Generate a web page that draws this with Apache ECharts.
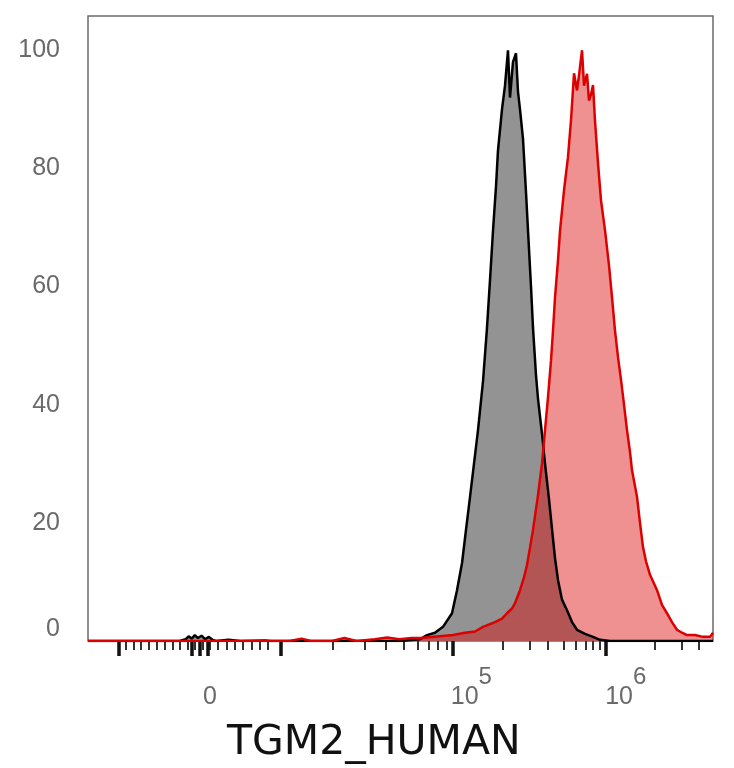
<!DOCTYPE html>
<html>
<head>
<meta charset="utf-8">
<script src="https://cdn.jsdelivr.net/npm/echarts@6/dist/echarts.min.js"></script>
<style>
html,body{margin:0;padding:0;background:#fff;}
#chart{width:734px;height:768px;}
</style>
</head>
<body>
<div id="chart"></div>
<script>
// x is display channel (0-1024, biexponential scale), y is % of max
var ctrlX=[0,120,150,160,165,170,175,180,186,192,198,204,210,230,250,290,300,511.2,544,555.4,568.5,581.6,596.4,604.6,612.8,619.3,625.9,639,647.2,653.7,658.6,663.6,668.5,671.7,678.3,683.2,688.1,691.4,696.3,701.2,704.5,707.8,712.7,717.6,720.9,725.8,729.1,734,737.3,743.9,748.8,755.3,760.2,765.2,770.1,776.6,784.8,793,801.2,814.3,827.4,838.9,855.2,1024];
var ctrlY=[0,0,0,0.3,0.8,0.4,1,0.5,0.9,0.3,0.7,0.2,0,0.2,0,0.1,0,0,0.3,1,1.4,2.4,4.7,8.6,13.2,18.8,24.4,35.7,44,53,61,69.5,77,83,90,94,100,92,98,99.5,93,90,85,76,69.5,60,53,45,41,35,30,24,19,14,10.3,7,5.2,3.2,1.9,1.2,0.7,0.2,0,0];
var tgmX=[0,330,350,365,400,420,440,470,490,510,530,545,598,617.7,634.1,647.2,666.8,678.3,686.5,694.7,699.6,707.8,714.4,719.3,724.2,729.1,737.3,743.9,748.8,753.7,758.6,761.9,765.2,770.1,773.4,779.9,786.4,791.4,796.3,801.2,804.5,809.4,812.7,817.6,820.8,824.1,827.4,830.7,835.6,840.5,847.1,853.6,858.5,863.4,868.4,873.3,878.2,883.1,888,891.3,899.5,904.4,909.3,914.2,920.8,932.3,940.4,948.6,956.8,965,973.2,981.4,994.5,1007.6,1019.1,1024];
var tgmY=[0,0,0.4,0,0,0.5,0,0.3,0.6,0.3,0.5,0.5,1,1.4,1.6,2.4,3.2,3.8,4.7,5.5,6.4,8.6,10.8,12.9,15.8,18.8,24.7,30.1,35.7,41.3,47.5,52.6,58.2,64.5,69.5,76.3,81.9,88.2,96.1,93.2,95.8,100,94,96,91.5,92.5,94.1,88,80.9,74.6,69.5,63.6,58.2,52.6,48,44.2,40,35.7,32,28.9,24.4,20,15.9,13.5,11.2,8.6,6.1,4.7,3.2,1.9,1.4,1,1,0.7,0.7,1.4];

// axis ticks (channels)
var majorTicks=[51,170.4,183.5,196.6,315,598,849];
var minorTicks=[62.3,74.5,86.8,99.9,113,125.3,138.4,150.7,163.8,175.3,188.4,199.9,213,226.9,240.8,253.9,267.9,281.8,294.9,
  401,452.8,488.4,516.8,540.4,557.8,573.2,587.9,
  680,724.2,753.7,780,799.6,816,827.4,839,
  929,972.8,1000];
var xLabelPos=[200,628,881];
var xLabelText=['{b|0}','{b|10}{s|5}','{b|10}{s|6}'];
var yTicks=[0,20,40,60,80,100];

function pairs(xs,ys){
	var out=[];
	for(var i=0;i<xs.length;i++){
		out.push([xs[i],ys[i]]);
	}
	return out;
}

var ctrlData=pairs(ctrlX,ctrlY);
var tgmData=pairs(tgmX,tgmY);

var font='"Liberation Sans", Arial, sans-serif';
var xMin=0, xMax=1024;

function tickAxis(vals,len,width,color){
	return {
		type:'value', min:xMin, max:xMax, position:'bottom', offset:0,
		axisLine:{show:false},
		splitLine:{show:false},
		axisLabel:{show:false},
		axisTick:{show:true, customValues:vals, length:len, lineStyle:{width:width,color:color}}
	};
}

var option={
	animation:false,
	title:{
		text:'TGM2_HUMAN',
		left:222,
		top:718,
		textStyle:{fontFamily:'"DejaVu Sans", Verdana, sans-serif',fontSize:41,fontWeight:'normal',color:'#111'}
	},
	grid:{left:88,right:21,top:16,bottom:127,show:true,borderColor:'#6b6b6b',borderWidth:1.5,backgroundColor:'#fff'},
	xAxis:[
		{
			type:'value', min:xMin, max:xMax, position:'bottom',
			axisLine:{show:false}, axisTick:{show:false}, axisLabel:{show:false}, splitLine:{show:false}
		},
		tickAxis(minorTicks,9,2,'#333'),
		tickAxis(majorTicks,15,3.5,'#111'),
		{
			type:'value', min:xMin, max:xMax, position:'bottom', offset:0,
			axisLine:{show:false}, axisTick:{show:false}, splitLine:{show:false},
			axisLabel:{
				show:true,
				customValues:xLabelPos,
				margin:24,
				formatter:function(v){
					for(var i=0;i<xLabelPos.length;i++){
						if(Math.abs(xLabelPos[i]-v)<0.5) return xLabelText[i];
					}
					return '';
				},
				rich:{
					b:{fontFamily:font,fontSize:25,color:'#6a6a6a',lineHeight:64,verticalAlign:'middle'},
					s:{fontFamily:font,fontSize:24,color:'#6a6a6a',lineHeight:22,verticalAlign:'top'}
				}
			}
		}
	],
	yAxis:{
		type:'value', min:0, max:105.8,
		axisLine:{show:false}, axisTick:{show:false}, splitLine:{show:false},
		axisLabel:{
			customValues:yTicks,
			margin:28,
			formatter:function(v){
				if(v===0) return '{z|0}';
				return '{n|'+v+'}';
			},
			rich:{
				n:{fontFamily:font,fontSize:25,color:'#6a6a6a'},
				z:{fontFamily:font,fontSize:25,color:'#6a6a6a',padding:[0,0,24,0]}
			}
		}
	},
	series:[
		{
			name:'ctrl fill', type:'line', data:ctrlData, symbol:'none', z:1,
			lineStyle:{width:0},
			areaStyle:{color:'#939393',opacity:1}
		},
		{
			name:'TGM2 fill', type:'line', data:tgmData, symbol:'none', z:2,
			lineStyle:{width:0},
			areaStyle:{color:'rgb(220,10,10)',opacity:0.45}
		},
		{
			name:'ctrl', type:'line', data:ctrlData, symbol:'none', z:3,
			lineStyle:{width:2.5,color:'#000'}
		},
		{
			name:'TGM2', type:'line', data:tgmData, symbol:'none', z:4,
			lineStyle:{width:2.5,color:'#dd0000'}
		}
	]
};

var myChart=echarts.init(document.getElementById('chart'));
myChart.setOption(option);
</script>
</body>
</html>
